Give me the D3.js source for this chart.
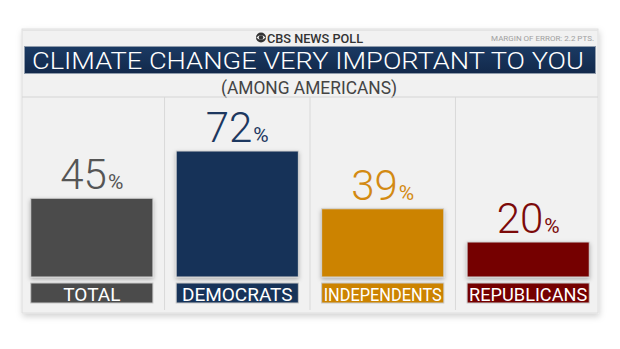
<!DOCTYPE html>
<html>
<head>
<meta charset="utf-8">
<script src="https://cdn.jsdelivr.net/npm/d3@7"></script>
<style>
  html, body { margin: 0; padding: 0; background: #fff; }
  svg { display: block; }
</style>
</head>
<body>
<svg id="chart" width="620" height="349"></svg>
<script>
// Poll results: share saying climate change is very important to them
const categories = ["TOTAL", "DEMOCRATS", "INDEPENDENTS", "REPUBLICANS"];
const values = [45, 72, 39, 20];
const barColors = ["#4b4b4b", "#173359", "#cc8300", "#740000"];
const valueColors = ["#555555", "#1d3860", "#d38a12", "#7c0a0a"];

const titleText = "CLIMATE CHANGE VERY IMPORTANT TO YOU";
const subtitleText = "(AMONG AMERICANS)";
const brandText = "CBS NEWS POLL";
const marginText = "MARGIN OF ERROR: 2.2 PTS.";

const W = 620, H = 349;
const panel = { x0: 22, x1: 598, y0: 29, y1: 313 };
const plotTop = 97, baseY = 277;

const svg = d3.select("#chart");
const defs = svg.append("defs");

const shadow = defs.append("filter").attr("id", "shadow")
  .attr("x", "-10%").attr("y", "-10%").attr("width", "120%").attr("height", "130%");
shadow.append("feDropShadow").attr("dx", 0).attr("dy", 2)
  .attr("stdDeviation", 2).attr("flood-color", "#000").attr("flood-opacity", 0.28);

const panelShadow = defs.append("filter").attr("id", "panelShadow")
  .attr("x", "-5%").attr("y", "-5%").attr("width", "110%").attr("height", "115%");
panelShadow.append("feDropShadow").attr("dx", 1).attr("dy", 3)
  .attr("stdDeviation", 3).attr("flood-color", "#000").attr("flood-opacity", 0.18);

const titleGrad = defs.append("linearGradient").attr("id", "titleGrad")
  .attr("x1", 0).attr("y1", 0).attr("x2", 0).attr("y2", 1);
titleGrad.append("stop").attr("offset", "0%").attr("stop-color", "#1b3a63");
titleGrad.append("stop").attr("offset", "100%").attr("stop-color", "#12294b");

// Card background
svg.append("rect")
  .attr("x", panel.x0).attr("y", panel.y0)
  .attr("width", panel.x1 - panel.x0).attr("height", panel.y1 - panel.y0)
  .attr("fill", "#f1f1f1").attr("stroke", "#dedede").attr("stroke-width", 1)
  .attr("filter", "url(#panelShadow)");

// Header strip
svg.append("line")
  .attr("x1", panel.x0).attr("x2", panel.x1)
  .attr("y1", panel.y0 + 1.5).attr("y2", panel.y0 + 1.5)
  .attr("stroke", "#e4e4e4");

// CBS eye mark
const eye = svg.append("g").attr("transform", "translate(261,37.5)");
eye.append("circle").attr("r", 5).attr("fill", "#333");
eye.append("path").attr("d", "M-4.6,0 Q0,-4.6 4.6,0 Q0,4.6 -4.6,0 Z").attr("fill", "#f1f1f1");
eye.append("circle").attr("r", 2.2).attr("fill", "#333");

svg.append("text")
  .attr("x", 267).attr("y", 42.5)
  .attr("font-family", "Roboto, 'Open Sans', sans-serif")
  .attr("font-weight", 500).attr("font-size", 13.5)
  .attr("fill", "#333").attr("textLength", 96).attr("lengthAdjust", "spacingAndGlyphs")
  .text(brandText);

svg.append("text")
  .attr("x", 594).attr("y", 41)
  .attr("text-anchor", "end")
  .attr("font-family", "Roboto, sans-serif")
  .attr("font-size", 8).attr("fill", "#a0a0a0")
  .text(marginText);

// Title bar
svg.append("rect")
  .attr("x", 24.5).attr("y", 46.5).attr("width", 571).attr("height", 27)
  .attr("fill", "url(#titleGrad)").attr("stroke", "#8f9bab").attr("stroke-width", 1);

svg.append("text")
  .attr("x", 32).attr("y", 69)
  .attr("font-family", "Roboto, sans-serif")
  .attr("font-weight", 300).attr("font-size", 23)
  .attr("fill", "#ffffff")
  .attr("textLength", 552).attr("lengthAdjust", "spacingAndGlyphs")
  .text(titleText);

// Subtitle
svg.append("text")
  .attr("x", 309).attr("y", 93.5)
  .attr("text-anchor", "middle")
  .attr("font-family", "Roboto, sans-serif")
  .attr("font-weight", 400).attr("font-size", 17.5)
  .attr("fill", "#444")
  .attr("textLength", 176).attr("lengthAdjust", "spacingAndGlyphs")
  .text(subtitleText);

svg.append("line")
  .attr("x1", panel.x0).attr("x2", panel.x1)
  .attr("y1", plotTop).attr("y2", plotTop)
  .attr("stroke", "#d6d6d6").attr("stroke-width", 1.2);

// Scales
const x = d3.scaleBand()
  .domain(categories)
  .range([panel.x0, panel.x1])
  .paddingInner(0.16)
  .paddingOuter(0.06);

const y = d3.scaleLinear().domain([0, 100]).range([baseY, 102]);

const gapHalf = x.step() * x.paddingInner() / 2;

// Column dividers
svg.append("g").selectAll("line")
  .data(categories.slice(1))
  .join("line")
  .attr("x1", d => x(d) - gapHalf).attr("x2", d => x(d) - gapHalf)
  .attr("y1", plotTop).attr("y2", panel.y1 - 3)
  .attr("stroke", "#d9d9d9").attr("stroke-width", 1);

const data = categories.map((c, i) => ({ cat: c, value: values[i], color: barColors[i], vcolor: valueColors[i] }));

// Bars
svg.append("g").selectAll("rect")
  .data(data)
  .join("rect")
  .attr("x", d => x(d.cat))
  .attr("y", d => y(d.value))
  .attr("width", x.bandwidth())
  .attr("height", d => y(0) - y(d.value))
  .attr("fill", d => d.color)
  .attr("stroke", "#d2d2d2").attr("stroke-width", 1)
  .attr("filter", "url(#shadow)");

// Category label boxes
const labels = svg.append("g").selectAll("g")
  .data(data)
  .join("g");

labels.append("rect")
  .attr("x", d => x(d.cat))
  .attr("y", 283)
  .attr("width", x.bandwidth())
  .attr("height", 20)
  .attr("fill", d => d.color)
  .attr("stroke", "#c8c8c8").attr("stroke-width", 1);

labels.append("text")
  .attr("x", d => x(d.cat) + x.bandwidth() / 2)
  .attr("y", 300.5)
  .attr("text-anchor", "middle")
  .attr("font-family", "Roboto, sans-serif")
  .attr("font-weight", 400).attr("font-size", 19)
  .attr("fill", "#fff")
  .text(d => d.cat)
  .each(function () {
    const w = this.getComputedTextLength();
    const maxW = x.bandwidth() - 4;
    if (w > maxW) d3.select(this).attr("textLength", maxW).attr("lengthAdjust", "spacingAndGlyphs");
  });

// Value labels
const vals = svg.append("g").selectAll("text")
  .data(data)
  .join("text")
  .attr("x", d => x(d.cat) + x.bandwidth() / 2)
  .attr("y", d => y(d.value) - 9)
  .attr("text-anchor", "middle")
  .attr("font-family", "Roboto, sans-serif")
  .attr("font-weight", 300)
  .attr("fill", d => d.vcolor);

vals.append("tspan").attr("font-size", 42).text(d => d.value);
vals.append("tspan").attr("font-size", 21).attr("dx", 1).attr("font-weight", 400).text("%");
</script>
</body>
</html>
